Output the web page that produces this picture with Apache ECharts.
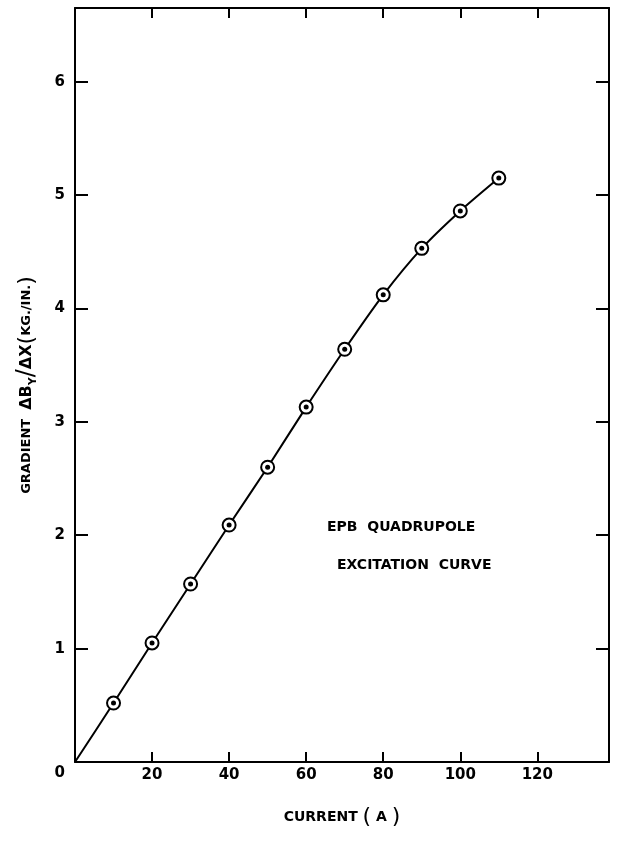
<!DOCTYPE html>
<html>
<head>
<meta charset="utf-8">
<script src="https://cdn.jsdelivr.net/npm/echarts@6/dist/echarts.min.js"></script>
<style>
  html, body { margin: 0; padding: 0; background: #fff; }
  #chart { width: 619px; height: 842px; }
</style>
</head>
<body>
<div id="chart"></div>
<script>
// measured points: current (A) vs gradient (kG/in)
var current = [10, 20, 30, 40, 50, 60, 70, 80, 90, 100, 110]
var gradient = [0.52, 1.05, 1.57, 2.09, 2.60, 3.13, 3.64, 4.12, 4.53, 4.86, 5.15]
var xTicks = [20, 40, 60, 80, 100, 120]
var yTicks = [0, 1, 2, 3, 4, 5, 6]

var font = 'DejaVu Sans'
var points = current.map(function (c, i) { return [c, gradient[i]] })
var curve = [[0, 0]].concat(points)

// shared frame style for the four sides
function frameAxis (pos, max, interval, tickLen) {
  return {
    type: 'value',
    min: 0,
    max: max,
    interval: interval,
    position: pos,
    splitLine: {show: false},
    axisLine: {onZero: false, lineStyle: {color: '#000', width: 2}},
    axisTick: {inside: true, length: tickLen, lineStyle: {color: '#000', width: 2}},
    axisLabel: {show: false}
  }
}

var xBottom = frameAxis('bottom', 138.6, 20, 10)
xBottom.axisLabel = {
  show: true,
  margin: 6,
  color: '#000',
  fontFamily: font,
  fontWeight: 'bold',
  fontSize: 15,
  formatter: function (v) { return xTicks.indexOf(v) >= 0 ? String(v) : '' }
}
xBottom.name = '{t|CURRENT }{p|(}{t| A }{p|)}'
xBottom.nameLocation = 'middle'
xBottom.nameGap = 44
xBottom.nameTextStyle = {
  rich: {
    t: {fontFamily: font, fontWeight: 'bold', fontSize: 14, color: '#000'},
    p: {fontFamily: font, fontSize: 22, color: '#000'}
  }
}

var yLeft = frameAxis('left', 6.65, 1, 13)
yLeft.axisLabel = {
  show: true,
  margin: 10,
  color: '#000',
  fontFamily: font,
  fontWeight: 'bold',
  fontSize: 15,
  formatter: function (v) {
    if (yTicks.indexOf(v) < 0) return ''
    return v === 0 ? '{z|0}' : String(v)
  },
  rich: {
    z: {fontFamily: font, fontWeight: 'bold', fontSize: 15, color: '#000', padding: [22, 0, 0, 0]}
  }
}
yLeft.name = '{t|GRADIENT  }{d|ΔB}{s|Y}{q|/}{d|ΔX}{p|(}{t|KG./IN.}{p|)}'
yLeft.nameLocation = 'middle'
yLeft.nameGap = 36
yLeft.nameRotate = 90
yLeft.nameTextStyle = {
  rich: {
    t: {fontFamily: font, fontWeight: 'bold', fontSize: 13, color: '#000'},
    d: {fontFamily: font, fontWeight: 'bold', fontSize: 16, color: '#000'},
    s: {fontFamily: font, fontWeight: 'bold', fontSize: 11, color: '#000', padding: [12, 0, 0, 0]},
    q: {fontFamily: font, fontSize: 24, color: '#000'},
    p: {fontFamily: font, fontSize: 22, color: '#000'}
  }
}

var chart = echarts.init(document.getElementById('chart'))
chart.setOption({
  backgroundColor: '#fff',
  animation: false,
  grid: {
    left: 75,
    right: 10,
    top: 8,
    bottom: 80
  },
  xAxis: [xBottom, frameAxis('top', 138.6, 20, 10)],
  yAxis: [yLeft, frameAxis('right', 6.65, 1, 13)],
  graphic: [
    {
      type: 'text',
      left: 327,
      top: 520,
      style: {text: 'EPB  QUADRUPOLE', fontFamily: font, fontWeight: 'bold', fontSize: 14, fill: '#000'}
    },
    {
      type: 'text',
      left: 337,
      top: 558,
      style: {text: 'EXCITATION  CURVE', fontFamily: font, fontWeight: 'bold', fontSize: 14, fill: '#000'}
    }
  ],
  series: [
    {
      name: 'curve',
      type: 'line',
      data: curve,
      smooth: 0.25,
      symbol: 'none',
      lineStyle: {color: '#000', width: 2},
      z: 2
    },
    {
      name: 'points',
      type: 'scatter',
      data: points,
      symbol: 'circle',
      symbolSize: 13,
      itemStyle: {color: '#fff', borderColor: '#000', borderWidth: 2, opacity: 1},
      z: 3
    },
    {
      name: 'dots',
      type: 'scatter',
      data: points,
      symbol: 'circle',
      symbolSize: 5,
      itemStyle: {color: '#000', opacity: 1},
      z: 4
    }
  ]
})
</script>
</body>
</html>
